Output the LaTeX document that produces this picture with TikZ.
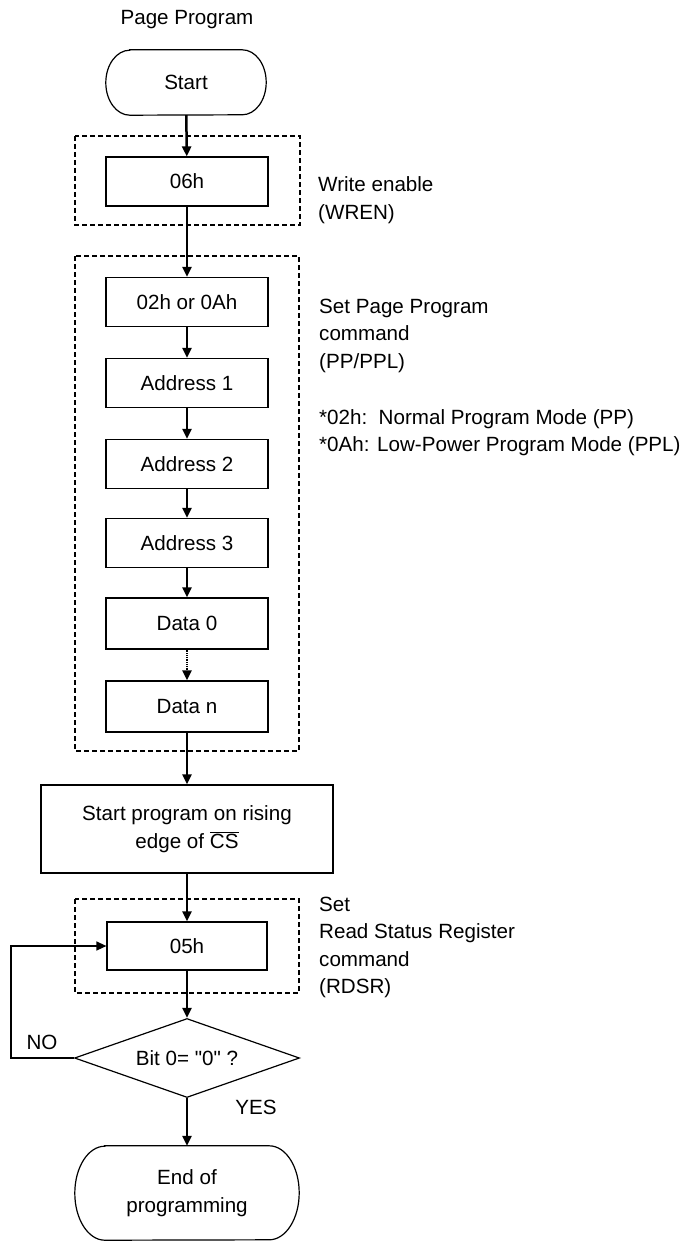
\documentclass[tikz,border=0pt]{standalone}
\usepackage{fontspec}
\setmainfont{Liberation Sans}[Ligatures=TeXOff]
\usetikzlibrary{arrows.meta,shapes.geometric}
\begin{document}
\begin{tikzpicture}[x=1pt,y=-1pt,
  every node/.style={font=\fontsize{20.6}{27.5}\selectfont, inner sep=0pt},
  box/.style={draw, line width=1.2pt, minimum width=162pt, minimum height=49pt, align=center},
  grp/.style={draw, line width=1.1pt, dash pattern=on 5pt off 3pt},
  note/.style={anchor=west, align=left},
  flow/.style={line width=2.5pt, -{Triangle[length=10pt,width=9pt]}},
  thinflow/.style={line width=1.4pt, -{Triangle[length=10pt,width=9pt]}},
  term/.style={line width=1.2pt}]
\useasboundingbox (0,0) rectangle (693,1241);

\node (title) at (187,20) {Page Program};

% Start terminal
\node[minimum width=160pt, minimum height=65pt] (start) at (186,82.5) {Start};
\draw[term] ([xshift=24pt]start.north west) -- ([xshift=-24pt]start.north east)
  arc[start angle=90, end angle=-90, x radius=24pt, y radius=32.5pt]
  -- ([xshift=24pt]start.south west)
  arc[start angle=270, end angle=90, x radius=24pt, y radius=32.5pt] -- cycle;

% Group 1
\draw[grp] (75,136) rectangle (300,225);
\node[box] (b06) at (187,181.5) {06h};
\node[note] (wren) at (318,200) {Write enable\\(WREN)};

% Group 2
\draw[grp] (75,256) rectangle (299,751);
\node[box] (b02) at (187,302) {02h or 0Ah};
\node[box] (a1) at (187,383) {Address 1};
\node[box] (a2) at (187,464) {Address 2};
\node[box] (a3) at (187,543) {Address 3};
\node[box, minimum height=51pt] (d0) at (187,623.5) {Data 0};
\node[box, minimum height=51pt] (dn) at (187,706.5) {Data n};
\node[note] (spp) at (319,335.5) {Set Page Program\\command\\(PP/PPL)};
\node[note] (modes) at (319,432.5) {*02h:\ \ Normal Program Mode (PP)\\*0Ah: Low-Power Program Mode (PPL)};

% Start program box
\node[box, minimum width=292pt, minimum height=88pt] (sp) at (187,829)
  {Start program on rising\\edge of $\overline{\hbox{CS}}$};

% Group 3
\draw[grp] (75,899) rectangle (299,993);
\node[box, minimum width=160pt, minimum height=48pt] (b05) at (187,946) {05h};
\node[note] (rdsr) at (319,947.5) {Set\\Read Status Register\\command\\(RDSR)};

% Decision
\node[diamond, draw, line width=1.2pt, minimum width=225pt, minimum height=79pt, aspect=2.85] (dec) at (187,1058) {Bit 0= "0" ?};
\node (no) at (42,1042) {NO};
\node (yes) at (256,1107) {YES};

% End terminal
\node[minimum width=224pt, minimum height=94pt, align=center] (end) at (187,1193) {End of\\programming};
\draw[term] ([xshift=30pt]end.north west) -- ([xshift=-30pt]end.north east)
  arc[start angle=90, end angle=-90, x radius=30pt, y radius=47pt]
  -- ([xshift=30pt]end.south west)
  arc[start angle=270, end angle=90, x radius=30pt, y radius=47pt] -- cycle;

% Connectors
\draw[flow] (start) -- (b06);
\draw[flow] (b06) -- (b02);
\draw[flow] (b02) -- (a1);
\draw[flow] (a1) -- (a2);
\draw[flow] (a2) -- (a3);
\draw[flow] (a3) -- (d0);
\draw[flow, dash pattern=on 1pt off 0.8pt] (d0) -- (dn);
\draw[flow] (dn) -- (sp);
\draw[flow] (sp) -- (b05);
\draw[flow] (b05) -- (dec);
\draw[flow] (dec) -- (end.north);
\coordinate (lp) at (11,1058);
\draw[thinflow] (dec.west) -- (lp) |- (b05.west);
\end{tikzpicture}
\end{document}
